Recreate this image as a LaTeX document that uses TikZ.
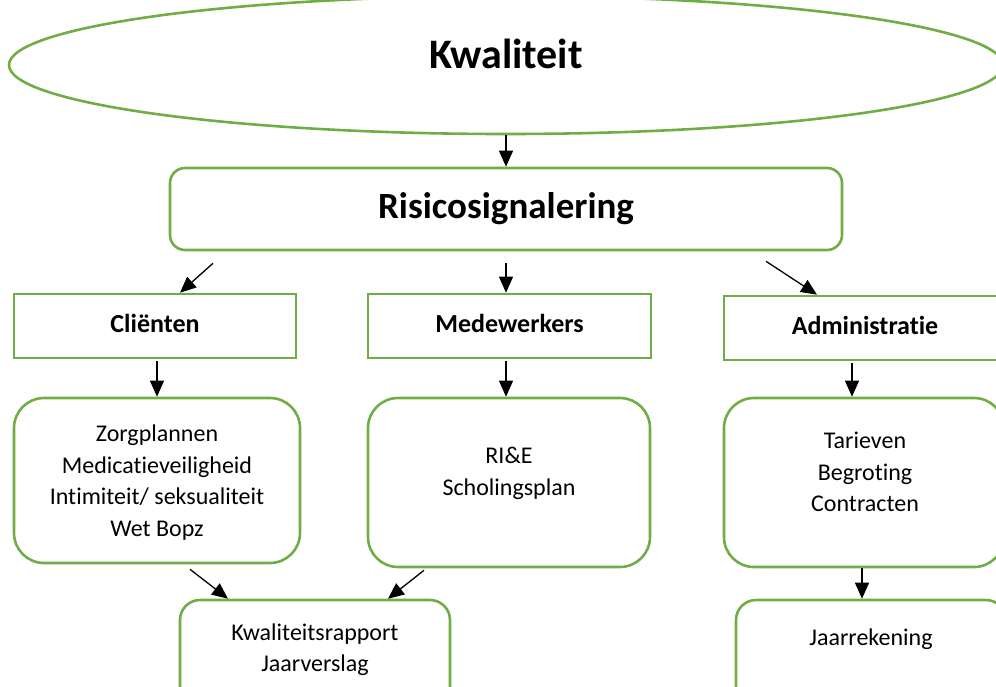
\documentclass[tikz,border=0pt]{standalone}
\usepackage{fontspec}
\setmainfont{Carlito}[RawFeature={-liga;-calt;-clig}]
\usepackage{tikz}
\usetikzlibrary{shapes.geometric,arrows.meta}
\definecolor{boxgreen}{RGB}{112,173,71}

\begin{document}
\begin{tikzpicture}[x=1pt,y=-1pt,
  greenline/.style={draw=boxgreen, line width=2.6pt, inner sep=0pt},
  topbox/.style={greenline, rectangle, rounded corners=15pt, minimum width=672pt, minimum height=82pt, font=\fontsize{37}{44}\selectfont\bfseries, text height=26pt, text depth=8pt},
  groupbox/.style={greenline, rectangle, minimum height=64pt, font=\fontsize{26}{31}\selectfont\bfseries, text height=18pt, text depth=5pt},
  listbox/.style={greenline, rectangle, rounded corners=30pt, minimum height=168pt},
  reportbox/.style={greenline, rectangle, rounded corners=20pt, minimum width=270pt, minimum height=110pt},
  listtext/.style={align=center, font=\fontsize{24}{31.5}\selectfont},
  arr/.style={-{Triangle[length=16pt,width=14pt]}, line width=1.3pt, black}]
\useasboundingbox (0,0) rectangle (996,686);
\clip (0,0) rectangle (996,686);

% Top
\node[greenline, ellipse, minimum width=994pt, minimum height=138pt] (kw) at (506,65) {};
\node[anchor=base, font=\fontsize{42}{50}\selectfont\bfseries] (kwlabel) at (506,68) {Kwaliteit};
\node[topbox] (ris) at (506,209) {Risicosignalering};

% Groups
\node[groupbox, minimum width=282pt] (cl2) at (155,326) {Cliënten};
\node[groupbox, minimum width=283pt] (mw2) at (509.5,326) {Medewerkers};
\node[groupbox, minimum width=282pt] (ad2) at (865,328) {Administratie};

% Lists
\node[listbox, minimum width=286pt, minimum height=165pt] (cl3) at (157,480.5) {};
\node[listbox, minimum width=282pt, minimum height=169pt] (mw3) at (509,482.5) {};
\node[listbox, minimum width=280pt, minimum height=169pt] (ad3) at (864,482.5) {};
\node[listtext] (cltext) at (157,482.5) {Zorgplannen\\Medicatieveiligheid\\Intimiteit/ seksualiteit\\Wet Bopz};
\node[listtext] (mwtext) at (509,473.5) {RI\&E\\Scholingsplan};
\node[listtext] (adtext) at (865,472) {Tarieven\\Begroting\\Contracten};

% Reports
\node[reportbox] (kwr) at (315,655) {};
\node[reportbox] (jr) at (871,655) {};
\node[listtext] (kwrtext) at (315,649.6) {Kwaliteitsrapport\\Jaarverslag};
\node[listtext, anchor=base] (jrtext) at (871,645) {Jaarrekening};

% Connections
\draw[arr] (kw.south) -- (ris.north);
\draw[arr] ([xshift=-293pt,yshift=-12pt]ris.south) -- ([xshift=25pt]cl2.north);
\draw[arr] ([yshift=-12pt]ris.south) -- (ris.south |- mw2.north);
\draw[arr] ([xshift=260pt,yshift=-10pt]ris.south) -- ([xshift=-48pt]ad2.north);
\draw[arr] ([yshift=-2pt]cl3.north |- cl2.south) -- (cl3.north);
\draw[arr] ([yshift=-2pt]ris.south |- mw2.south) -- (ris.south |- mw3.north);
\draw[arr] ([xshift=-12pt,yshift=-2pt]ad3.north |- ad2.south) -- ([xshift=-12pt]ad3.north);
\draw[arr] ([xshift=33pt,yshift=-5pt]cl3.south) -- ([xshift=-87pt]kwr.north);
\draw[arr] ([xshift=-85pt,yshift=-2pt]mw3.south) -- ([xshift=73pt]kwr.north);
\draw[arr] ([xshift=-2pt]ad3.south) -- ([xshift=-9pt]jr.north);
\end{tikzpicture}
\end{document}
